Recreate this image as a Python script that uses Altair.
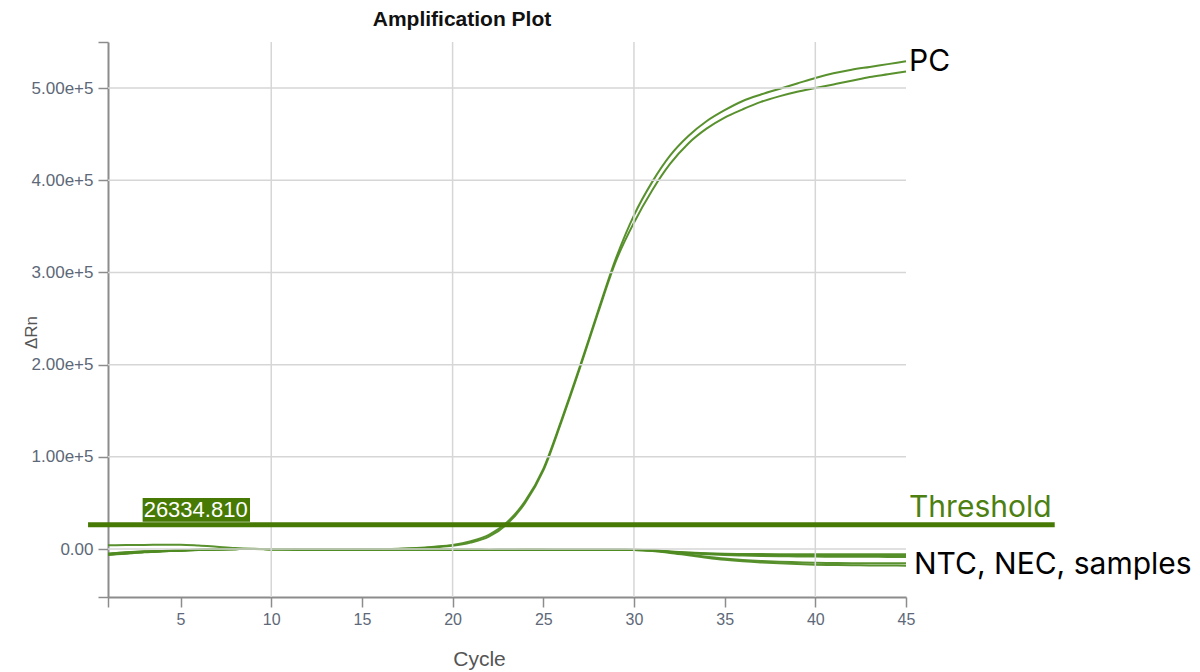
import altair as alt
import pandas as pd

CYCLES = list(range(1, 46))

PC_1 = [4000, 4300, 4500, 4600, 4700, 3800, 2500, 1200, 400, 0,
        -300, -500, -500, -400, -300, -100, 300, 1200, 2600, 4500,
        8500, 15500, 29000, 52000, 87000, 140000, 197000, 257000, 315000, 362000,
        398000, 427000, 448000, 464000, 476000, 486000, 493000, 499000, 505000, 511000,
        516000, 520000, 523000, 526000, 529000]
PC_2 = [-5000, -3500, -2500, -2000, -1500, -800, -300, 0, 0, -200,
        -400, -500, -500, -400, -300, -200, 100, 800, 2000, 3500,
        7000, 13500, 27000, 50000, 85000, 138000, 195000, 255000, 312000, 354000,
        389000, 418000, 440000, 456000, 468000, 477000, 485000, 491000, 496000, 500000,
        504000, 508000, 512000, 515000, 518000]
S_1 = [-6000, -4500, -3200, -2300, -1600, -900, -400, -100, 0, -100,
       -300, -400, -500, -500, -500, -400, -400, -500, -500, -600,
       -700, -800, -700, -600, -600, -700, -700, -700, -700, -800,
       -1300, -2600, -3700, -4500, -5000, -5300, -5400, -5500, -5500, -5600,
       -5600, -5600, -5600, -5600, -5600]
S_2 = [-5500, -4000, -2800, -2000, -1400, -800, -300, 0, 0, -100,
       -300, -400, -500, -500, -500, -400, -400, -500, -500, -600,
       -700, -800, -700, -600, -600, -700, -700, -700, -700, -800,
       -1400, -2800, -4000, -4900, -5600, -6000, -6300, -6500, -6700, -6800,
       -6900, -6900, -7000, -7000, -7000]
S_3 = [-6500, -5000, -3500, -2500, -1700, -1000, -400, -100, 0, -100,
       -300, -400, -500, -500, -500, -400, -400, -500, -600, -700,
       -800, -900, -800, -700, -700, -700, -700, -700, -800, -900,
       -1600, -3100, -4500, -5600, -6500, -7100, -7500, -7800, -8000, -8200,
       -8300, -8400, -8400, -8500, -8500]
S_4 = [-6000, -4600, -3300, -2400, -1600, -900, -400, -100, 0, -100,
       -300, -400, -500, -500, -500, -400, -400, -500, -600, -700,
       -800, -900, -800, -700, -700, -700, -700, -700, -800, -900,
       -1800, -3700, -6000, -8300, -10300, -11800, -12900, -13700, -14300, -14800,
       -15100, -15300, -15400, -15500, -15500]
S_5 = [-5000, -3800, -2700, -2000, -1400, -800, -300, 0, 0, -100,
       -300, -400, -500, -500, -500, -400, -400, -500, -600, -700,
       -800, -900, -800, -700, -700, -700, -700, -700, -800, -1000,
       -2000, -4200, -6800, -9300, -11500, -13200, -14500, -15500, -16300, -16900,
       -17300, -17600, -17800, -17900, -18000]

SERIES = {"PC 1": PC_1, "PC 2": PC_2, "S1": S_1, "S2": S_2, "S3": S_3, "S4": S_4, "S5": S_5}

THRESHOLD = 26334.81
THR_X = [-0.1, 53.2]
THR_BOX_X = [2.91, 8.83]
THR_BOX_Y = [29700, 55400]

X_TICKS = [1, 5, 10, 15, 20, 25, 30, 35, 40, 45]
Y_TICKS = [-52000, 0, 100000, 200000, 300000, 400000, 500000, 550000]
GRID_X = [10, 20, 30, 40]
GRID_Y = [0, 100000, 200000, 300000, 400000, 500000]

LINE = "#4f8b22"
DARK = "#467a05"
GRID = "#d6d6d6"
AXIS = "#8c8c8c"
LABEL = "#5d6878"
ANNOT_FONT = "Inter"
X_TITLE = "Cycle"
Y_TITLE = "ΔRn"

rows = []
for name, vals in SERIES.items():
    for c, v in zip(CYCLES, vals):
        rows.append({"cycle": c, "value": v, "series": name})
df = pd.DataFrame(rows)

xs = alt.Scale(domain=[1, 45], nice=False, zero=False)
ys = alt.Scale(domain=[-52000, 550000], nice=False, zero=False)


def X(field):
    return alt.X(field, scale=xs, title=X_TITLE)


def Y(field):
    return alt.Y(field, scale=ys, title=Y_TITLE)


lines = alt.Chart(df).mark_line(interpolate="monotone", strokeWidth=2, color=LINE, opacity=0.95).encode(
    x=alt.X("cycle:Q", scale=xs, title=X_TITLE,
            axis=alt.Axis(values=X_TICKS, grid=False, domainColor=AXIS, domainWidth=2,
                          tickColor=AXIS, tickWidth=1.5, tickSize=10,
                          labelExpr="datum.value == 1 ? '' : datum.label",
                          labelFont="Liberation Sans", labelFontSize=16, labelColor=LABEL,
                          labelPadding=4, labelFlush=False,
                          titleFont="Liberation Sans", titleFontSize=21, titleFontWeight="normal",
                          titleColor="#555555", titleX=371, titleY=68, titleBaseline="alphabetic",
                          titleAlign="center")),
    y=alt.Y("value:Q", scale=ys, title=Y_TITLE,
            axis=alt.Axis(values=Y_TICKS, grid=False, domainColor=AXIS, domainWidth=2,
                          tickColor=AXIS, tickWidth=1.5, tickSize=10,
                          labelExpr="(datum.value < -1 || datum.value > 540000) ? '' : (datum.value == 0 ? '0.00' : format(datum.value, '.2e'))",
                          labelFont="Liberation Sans", labelFontSize=17, labelColor=LABEL,
                          labelPadding=5, labelFlush=False,
                          titleFont="Liberation Sans", titleFontSize=17, titleFontWeight="normal",
                          titleColor="#555555", titleX=-77, titleY=290, titleBaseline="middle",
                          titleAlign="center", titleAngle=270)),
    detail="series:N",
)

grid_x = alt.Chart(pd.DataFrame({"g": GRID_X})).mark_rule(color=GRID, strokeWidth=1.5).encode(x=X("g:Q"))
grid_y = alt.Chart(pd.DataFrame({"g": GRID_Y})).mark_rule(color=GRID, strokeWidth=1.5).encode(y=Y("g:Q"))

thr_df = pd.DataFrame({"x0": [THR_X[0]], "x1": [THR_X[1]], "y": [THRESHOLD],
                       "bx0": [THR_BOX_X[0]], "bx1": [THR_BOX_X[1]],
                       "by0": [THR_BOX_Y[0]], "by1": [THR_BOX_Y[1]],
                       "ymid": [(THR_BOX_Y[0] + THR_BOX_Y[1]) / 2],
                       "label": [f"{THRESHOLD:.3f}"], "xend": [45]})

thr_line = alt.Chart(thr_df).mark_rule(strokeWidth=5, color=DARK).encode(
    x=X("x0:Q"), x2="x1:Q", y=Y("y:Q"))
thr_box = alt.Chart(thr_df).mark_rect(color=DARK).encode(
    x=X("bx0:Q"), x2="bx1:Q", y=Y("by0:Q"), y2="by1:Q")
thr_text = alt.Chart(thr_df).mark_text(align="left", baseline="middle", color="white",
                                       font="Liberation Sans", fontSize=22, dx=1).encode(
    x=X("bx0:Q"), y=Y("ymid:Q"), text="label:N")
thr_name = alt.Chart(thr_df).mark_text(align="left", baseline="alphabetic", color="#4d7f12",
                                       font=ANNOT_FONT, fontSize=30, dx=3, dy=-8).encode(
    x=X("xend:Q"), y=Y("y:Q"), text=alt.value("Threshold"))

ann_df = pd.DataFrame({"x": [45, 45], "y": [PC_1[-1], (S_1[-1] + S_5[-1]) / 2],
                       "t": ["PC", "NTC, NEC, samples"]})
pc_text = alt.Chart(ann_df.iloc[[0]]).mark_text(align="left", baseline="middle", color="black",
                                                font=ANNOT_FONT, fontSize=30, dx=3, dy=1).encode(
    x=X("x:Q"), y=Y("y:Q"), text="t:N")
ntc_text = alt.Chart(ann_df.iloc[[1]]).mark_text(align="left", baseline="middle", color="black",
                                                 font=ANNOT_FONT, fontSize=30, dx=8, dy=5).encode(
    x=X("x:Q"), y=Y("y:Q"), text="t:N")

chart = alt.layer(lines, grid_x, grid_y, thr_line, thr_box, thr_text, thr_name, pc_text, ntc_text).properties(
    width=798, height=555,
    padding={"left": 100, "top": 34, "right": 286, "bottom": 74},
    autosize=alt.AutoSizeParams(type="none"),
    title=alt.TitleParams("Amplification Plot", anchor="middle", dx=-45, offset=11,
                          font="Liberation Sans", fontSize=21, fontWeight="bold", color="#111111"),
).configure_view(stroke=None)

chart.save("out.html", embed_options={"renderer": "svg", "actions": False})
